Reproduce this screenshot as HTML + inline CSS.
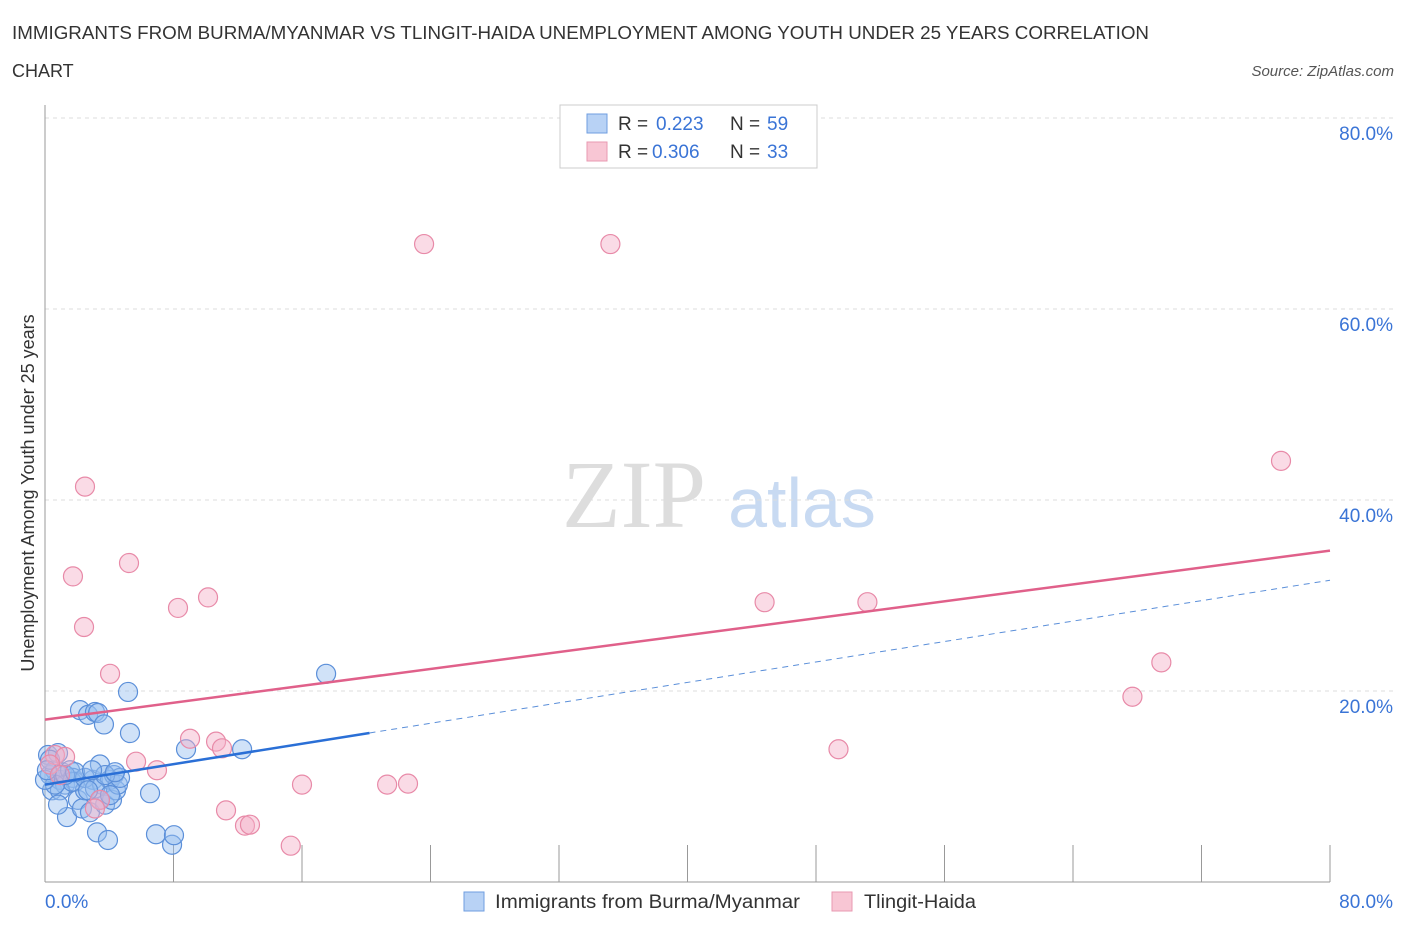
<!DOCTYPE html>
<html><head><meta charset="utf-8"><style>
body{margin:0;background:#fff;font-family:"Liberation Sans",sans-serif}
</style></head><body>
<svg width="1406" height="930" id="svg" xmlns="http://www.w3.org/2000/svg" font-family="Liberation Sans, sans-serif">
<text x="12" y="39" font-size="18" fill="#333" textLength="1137" lengthAdjust="spacingAndGlyphs">IMMIGRANTS FROM BURMA/MYANMAR VS TLINGIT-HAIDA UNEMPLOYMENT AMONG YOUTH UNDER 25 YEARS CORRELATION</text>
<text x="12" y="77" font-size="18" fill="#333">CHART</text>
<text x="1394" y="76" font-size="15" fill="#555" font-style="italic" text-anchor="end">Source: ZipAtlas.com</text>
<text x="634" y="527" font-size="96" fill="#ddd" font-family="Liberation Serif, serif" text-anchor="middle">ZIP</text>
<text x="802" y="527" font-size="70" fill="#c8daf2" text-anchor="middle">atlas</text>
<text transform="translate(34,493) rotate(-90)" font-size="18" fill="#333" text-anchor="middle">Unemployment Among Youth under 25 years</text>
<g id="grid"></g><g id="pts"></g><g id="lines"></g>
<g>
<rect x="560" y="105" width="257" height="63" fill="#fff" stroke="#ccc"/>
<rect x="587" y="114" width="20" height="19" fill="#b8d2f5" stroke="#6f9ee0"/>
<text x="618" y="130" font-size="19" fill="#333">R = </text><text x="656" y="130" font-size="19" fill="#3a74d6">0.223</text>
<text x="730" y="130" font-size="19" fill="#333">N = </text><text x="767" y="130" font-size="19" fill="#3a74d6">59</text>
<rect x="587" y="142" width="20" height="19" fill="#f8c6d4" stroke="#e899b2"/>
<text x="618" y="158" font-size="19" fill="#333">R = </text><text x="652" y="158" font-size="19" fill="#3a74d6">0.306</text>
<text x="730" y="158" font-size="19" fill="#333">N = </text><text x="767" y="158" font-size="19" fill="#3a74d6">33</text>
</g>
<g>
<rect x="464" y="892" width="20" height="19" fill="#b8d2f5" stroke="#6f9ee0"/>
<text x="495" y="908" font-size="19" fill="#333" textLength="305" lengthAdjust="spacingAndGlyphs">Immigrants from Burma/Myanmar</text>
<rect x="832" y="892" width="20" height="19" fill="#f8c6d4" stroke="#e899b2"/>
<text x="864" y="908" font-size="19" fill="#333" textLength="112" lengthAdjust="spacingAndGlyphs">Tlingit-Haida</text>
</g>
</svg>
<script>
const blueX=[0.19,0.31,0.44,0.62,0.81,0.93,1.06,1.25,1.37,1.56,1.74,1.87,2.05,2.18,2.30,2.49,2.68,2.80,2.99,3.11,3.24,3.30,3.42,3.55,3.67,3.74,3.92,4.05,4.17,4.30,4.42,4.54,4.67,5.17,5.29,6.54,6.91,7.91,8.03,8.78,12.27,17.50,0.93,1.68,2.49,3.11,3.74,4.36,3.42,0.31,0.62,1.25,1.87,2.68,4.05,0.81,0,0.12,2.93];
const blueY=[13.3,11.2,9.6,11.7,13.5,10.7,11.5,10.2,6.8,11.7,10.9,10.5,8.6,18.0,7.7,9.6,17.5,7.3,10.7,17.8,5.2,17.7,12.3,10.2,16.5,8.1,4.4,10.7,8.6,11.2,9.6,10.2,10.9,19.9,15.6,9.3,5.0,3.9,4.9,13.9,13.9,21.8,9.6,10.5,10.9,9.8,11.2,11.5,8.6,12.8,10.2,11.2,11.5,9.6,9.1,8.1,10.7,11.7,11.7];
const pinkX=[23.6,35.2,2.49,76.95,1.74,5.23,10.15,8.28,2.43,44.8,51.2,69.5,67.7,4.05,49.4,9.03,10.65,11.02,5.67,6.97,16.0,21.3,22.6,11.27,12.45,12.76,15.3,0.62,1.25,0.31,3.42,3.11,0.93];
const pinkY=[66.8,66.8,41.4,44.1,32.0,33.4,29.8,28.7,26.7,29.3,29.3,23.0,19.4,21.8,13.9,15.0,14.7,14.0,12.6,11.7,10.2,10.2,10.3,7.5,5.9,6.0,3.8,13.3,13.1,12.3,8.6,7.7,11.2];
const yTicks=[20,40,60,80];
const yTickLabels=["20.0%","40.0%","60.0%","80.0%"];
const xTicks=[0,8,16,24,32,40,48,56,64,72,80];
const pinkLine=[17.0,34.7];
const blueLine=[10.2,31.6];
const blueSolidEnd=20.2;
const NS="http://www.w3.org/2000/svg";
const sx=v=>45+v*1285/80, sy=v=>882-v*9.55;
function mk(t,a,p){const e=document.createElementNS(NS,t);for(const k in a)e.setAttribute(k,a[k]);p.appendChild(e);return e;}
const grid=document.getElementById('grid');
yTicks.forEach((t,i)=>{
 const l=mk('line',{x1:45,x2:1395,y1:sy(t),y2:sy(t),stroke:'#ddd','stroke-dasharray':'4,4'},grid);
 
 
 const tx=mk('text',{x:1393,y:sy(t)+22,'font-size':19,fill:'#3a74d6','text-anchor':'end'},grid);
 tx.textContent=yTickLabels[i];
 
 
});
const ax=mk('line',{x1:45,x2:45,y1:105,y2:882,stroke:'#999'},grid);


const bx=mk('line',{x1:45,x2:1330,y1:882,y2:882,stroke:'#999'},grid);


xTicks.forEach(t=>{
 const l=mk('line',{x1:sx(t),x2:sx(t),y1:845,y2:882,stroke:'#999'},grid);
 
 
});
const x0=mk('text',{x:45,y:908,'font-size':19,fill:'#3a74d6'},grid);x0.textContent='0.0%';


const x1=mk('text',{x:1393,y:908,'font-size':19,fill:'#3a74d6','text-anchor':'end'},grid);x1.textContent='80.0%';


const pts=document.getElementById('pts');
blueX.forEach((x,i)=>{
 const c=mk('circle',{cx:sx(x),cy:sy(blueY[i]),r:9.5,fill:'rgba(150,190,240,0.45)',stroke:'#5b8fd9','stroke-width':1.2},pts);
 
 
});
pinkX.forEach((x,i)=>{
 const c=mk('circle',{cx:sx(x),cy:sy(pinkY[i]),r:9.5,fill:'rgba(245,175,200,0.45)',stroke:'#e88aa8','stroke-width':1.2},pts);
 
 
});
const ln=document.getElementById('lines');
const bAt=x=>blueLine[0]+(blueLine[1]-blueLine[0])*x/80;
const p=mk('line',{x1:sx(0),y1:sy(pinkLine[0]),x2:sx(80),y2:sy(pinkLine[1]),stroke:'#e0608a','stroke-width':2.5},ln);


const bd=mk('line',{x1:sx(blueSolidEnd),y1:sy(bAt(blueSolidEnd)),x2:sx(80),y2:sy(blueLine[1]),stroke:'#5b8fd9','stroke-width':1,'stroke-dasharray':'6,5'},ln);


const bs=mk('line',{x1:sx(0),y1:sy(blueLine[0]),x2:sx(blueSolidEnd),y2:sy(bAt(blueSolidEnd)),stroke:'#2a6fd6','stroke-width':2.5},ln);


</script>
</body></html>
